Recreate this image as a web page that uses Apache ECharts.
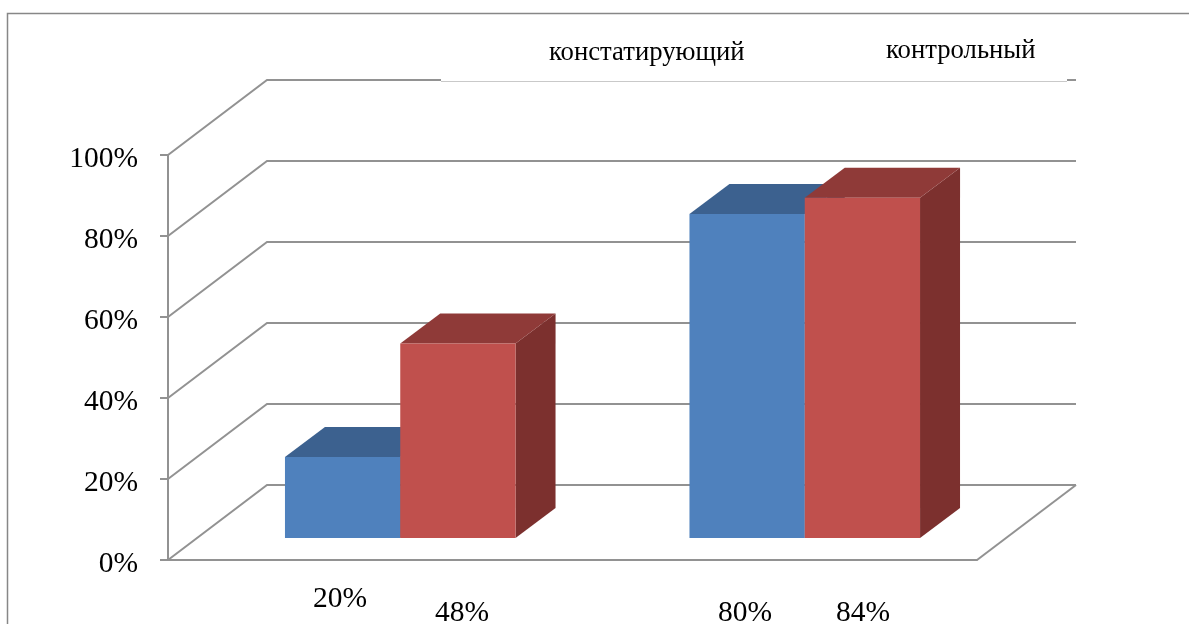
<!DOCTYPE html>
<html>
<head>
<meta charset="utf-8">
<style>
  html, body { margin: 0; padding: 0; background: #fff; }
  #chart { width: 1189px; height: 624px; }
</style>
<script src="https://cdn.jsdelivr.net/npm/echarts@6/dist/echarts.min.js"></script>
</head>
<body>
<div id="chart"></div>
<script>
// Group results of the two test stages, in percent
const categories = ['1', '2'];
const stageNames = ['констатирующий', 'контрольный'];
const firstStage = [20, 80];
const secondStage = [48, 84];
const yTicks = [0, 20, 40, 60, 80, 100];

// Pseudo-3D projection: wall depth, floor inset of the bars, and bar depth
const WALL = { dx: 99, dy: -75 };
const INSET = { dx: 30, dy: -22 };
const DEPTH = { dx: 40, dy: -30 };
const BAR_SHARE = 0.285;

const GRID_COLOR = '#929292';
const GRID_WIDTH = 2;
const FONT = '"Liberation Serif", "Times New Roman", serif';

const palette = [
  { front: '#4f81bd', top: '#3c618f', side: '#2f4d72' },
  { front: '#c0504d', top: '#8f3a38', side: '#7c302e' }
];

function poly(points, fill) {
  return { type: 'polygon', shape: { points }, style: { fill, stroke: null } };
}

function renderBar(params, api) {
  const cat = api.value(0);
  const value = api.value(1);
  const band = api.size([1, 0])[0];
  const w = band * BAR_SHARE;
  const base = api.coord([cat, 0]);
  const head = api.coord([cat, value]);
  // First stage sits left of the category centre, second stage right of it
  const x0 = base[0] + INSET.dx + (params.seriesIndex === 2 ? 0 : -w);
  const x1 = x0 + w;
  const yb = base[1] + INSET.dy;
  const yt = head[1] + INSET.dy;
  const c = palette[params.seriesIndex - 1];
  return {
    type: 'group',
    children: [
      poly([[x1, yb], [x1 + DEPTH.dx, yb + DEPTH.dy], [x1 + DEPTH.dx, yt + DEPTH.dy], [x1, yt]], c.side),
      poly([[x0, yt], [x0 + DEPTH.dx, yt + DEPTH.dy], [x1 + DEPTH.dx, yt + DEPTH.dy], [x1, yt]], c.top),
      poly([[x0, yb], [x1, yb], [x1, yt], [x0, yt]], c.front)
    ]
  };
}

// Side-wall diagonal and back-wall line for every value tick, plus the floor edge
function renderWall(params, api) {
  const rect = params.coordSys;
  const p = api.coord([0, api.value(0)]);
  const left = rect.x;
  const right = rect.x + rect.width;
  const y = p[1];
  const line = { stroke: GRID_COLOR, lineWidth: GRID_WIDTH, fill: null };
  const children = [{
    type: 'polyline',
    shape: { points: [[left, y], [left + WALL.dx, y + WALL.dy], [right + WALL.dx, y + WALL.dy]] },
    style: line
  }];
  if (api.value(0) === 0) {
    children.push({
      type: 'polyline',
      shape: { points: [[right, y], [right + WALL.dx, y + WALL.dy]] },
      style: line
    });
  }
  return { type: 'group', children };
}

function textAt(text, x, y, size) {
  return {
    type: 'text', z: 20, x, y,
    style: { text, fill: '#000', font: size + 'px ' + FONT, textAlign: 'left', textVerticalAlign: 'middle' }
  };
}

const chart = echarts.init(document.getElementById('chart'), null, { renderer: 'canvas' });
chart.setOption({
  animation: false,
  backgroundColor: '#fff',
  grid: { left: 168, right: 212, top: 155, bottom: 64, containLabel: false },
  xAxis: {
    type: 'category',
    data: categories,
    axisLine: { show: true, lineStyle: { color: GRID_COLOR, width: GRID_WIDTH } },
    axisTick: { show: false },
    axisLabel: { show: false },
    splitLine: { show: false }
  },
  yAxis: {
    type: 'value',
    min: yTicks[0],
    max: yTicks[yTicks.length - 1],
    interval: yTicks[1] - yTicks[0],
    axisLine: { show: true, lineStyle: { color: GRID_COLOR, width: GRID_WIDTH } },
    axisTick: { show: true, length: 8, lineStyle: { color: GRID_COLOR, width: GRID_WIDTH } },
    axisLabel: {
      formatter: '{value}%',
      margin: 30,
      color: '#000',
      fontFamily: FONT,
      fontSize: 29.5,
      verticalAlign: 'top',
      lineHeight: 8
    },
    splitLine: { show: false }
  },
  series: [
    { type: 'custom', z: 1, renderItem: renderWall, data: yTicks.map(v => [v]), encode: { y: 0 }, silent: true },
    { type: 'custom', z: 3, name: stageNames[0], renderItem: renderBar, data: firstStage.map((v, i) => [i, v]), encode: { x: 0, y: 1 } },
    { type: 'custom', z: 4, name: stageNames[1], renderItem: renderBar, data: secondStage.map((v, i) => [i, v]), encode: { x: 0, y: 1 } }
  ],
  graphic: [
    // Page frame: left and top rules only
    { type: 'polyline', z: 5, shape: { points: [[7.5, 624], [7.5, 13.5], [1189, 13.5]] }, style: { stroke: '#878787', lineWidth: 1.5, fill: null } },
    // Caption box laid over the top wall line
    { type: 'rect', z: 6, shape: { x: 441, y: 76, width: 626, height: 5 }, style: { fill: '#fff' } },
    { type: 'line', z: 7, shape: { x1: 441, y1: 81.5, x2: 1067, y2: 81.5 }, style: { stroke: '#c9c9c9', lineWidth: 1 } },
    textAt(stageNames[0], 549, 53, 26.7),
    textAt(stageNames[1], 886, 51, 26.7),
    // Value captions under the bars
    textAt(firstStage[0] + '%', 313, 599, 29.5),
    textAt(secondStage[0] + '%', 435, 613, 29.5),
    textAt(firstStage[1] + '%', 718, 613, 29.5),
    textAt(secondStage[1] + '%', 836, 613, 29.5)
  ]
});
</script>
</body>
</html>
